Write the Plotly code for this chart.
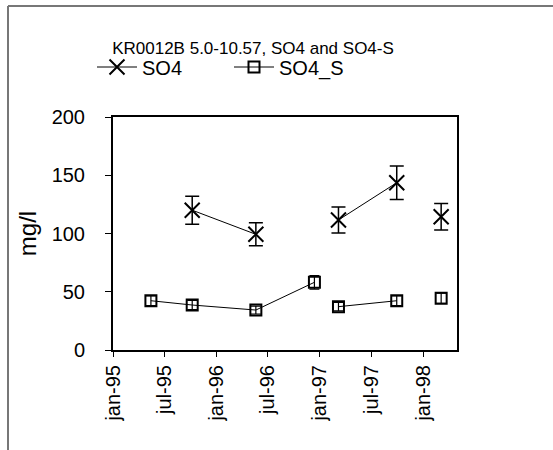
import plotly.graph_objects as go

# sampling dates (None rows break the lines like the original)
dates = ["1995-05-15", "1995-10-08", "1996-05-20", "1996-12-13", "1997-02-01",
         "1997-03-08", "1997-09-30", "1997-12-15", "1998-03-06"]
so4 = [None, 120, 99.3, None, None, 111.6, 143.6, None, 114.4]
so4_err = [None, 12, 9.9, None, None, 11.2, 14.4, None, 11.4]
so4_s = [42.3, 38.6, 34.3, 58.1, None, 37.2, 42.3, None, 44.4]
so4_s_err = [4.2, 3.9, 3.4, 5.8, None, 3.7, 4.2, None, 4.4]

tick_dates = ["1995-01-01", "1995-07-01", "1996-01-01", "1996-07-01",
              "1997-01-01", "1997-07-01", "1998-01-01"]
tick_labels = ["jan-95", "jul-95", "jan-96", "jul-96", "jan-97", "jul-97", "jan-98"]

W, H = 553, 450
L, R, T, B = 113, 96, 117, 100
pw, ph = W - L - R, H - T - B

def px(x):
    return (x - L) / pw

def py(y):
    return (H - B - y) / ph

font = "Arial, Liberation Sans, sans-serif"

fig = go.Figure()

fig.add_trace(go.Scatter(
    x=dates, y=so4, name="SO4", mode="lines+markers", connectgaps=False,
    line=dict(color="black", width=1),
    marker=dict(symbol="x-thin-open", size=15, color="black",
                line=dict(color="black", width=2)),
    error_y=dict(type="data", array=so4_err, color="black", thickness=1.5, width=7),
))

fig.add_trace(go.Scatter(
    x=dates, y=so4_s, name="SO4_S", mode="lines+markers", connectgaps=False,
    line=dict(color="black", width=1),
    marker=dict(symbol="square-open", size=11, color="black",
                line=dict(color="black", width=2)),
    error_y=dict(type="data", array=so4_s_err, color="black", thickness=1.2, width=5),
))

# outer chart frame (only top and left edges show in the original)
fig.add_shape(type="line", xref="paper", yref="paper",
              x0=px(8), x1=px(W + 5), y0=py(6), y1=py(6),
              line=dict(color="#777777", width=2))
fig.add_shape(type="line", xref="paper", yref="paper",
              x0=px(8), x1=px(8), y0=py(6), y1=py(H + 5),
              line=dict(color="#777777", width=2))

fig.update_layout(
    width=W, height=H,
    margin=dict(l=L, r=R, t=T, b=B),
    paper_bgcolor="white", plot_bgcolor="white",
    font=dict(family=font, size=20, color="black"),
    title=dict(text="KR0012B 5.0-10.57, SO4 and SO4-S", x=253 / W, xanchor="center",
               y=1 - 48 / H, yanchor="middle", font=dict(size=17)),
    showlegend=True,
    legend=dict(orientation="h", x=px(92), xanchor="left", y=py(67), yanchor="middle",
                font=dict(size=20), bgcolor="rgba(0,0,0,0)", itemwidth=40,
                entrywidth=82, entrywidthmode="pixels"),
    xaxis=dict(type="date", range=["1995-01-01", "1998-05-01"],
               tickvals=tick_dates, ticktext=tick_labels, tickangle=-90,
               ticks="outside", ticklen=5, tickcolor="black",
               showline=True, linecolor="black", linewidth=2, mirror=True,
               showgrid=False, zeroline=False),
    yaxis=dict(range=[0, 200], dtick=50, ticks="outside", ticklen=6, tickcolor="black",
               ticklabelstandoff=16,
               showline=True, linecolor="black", linewidth=2, mirror=True,
               showgrid=False, zeroline=False,
               title=dict(text="mg/l", standoff=8)),
)

fig.write_html("out.html", config={"displayModeBar": False},
               post_script="document.body.style.margin='0';")
